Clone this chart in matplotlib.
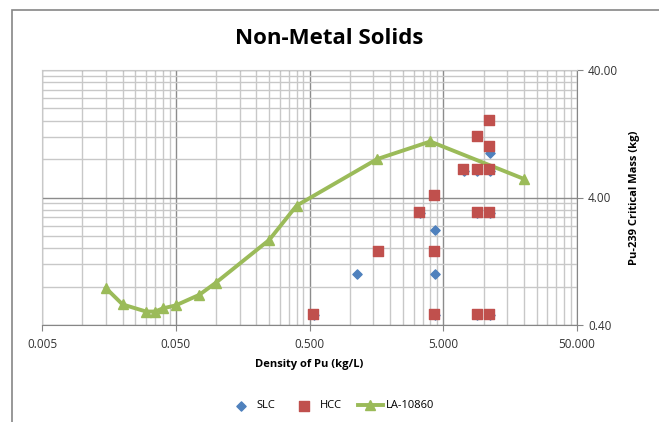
import numpy as np
import matplotlib
matplotlib.use('Agg')
import matplotlib.pyplot as plt
from matplotlib.patches import Rectangle
from matplotlib.ticker import FixedLocator, NullFormatter

plt.rcParams['font.family'] = ['Open Sans', 'DejaVu Sans']

# LA-10860 reference curve
la_x = [0.015, 0.02, 0.03, 0.035, 0.04, 0.05, 0.075, 0.1, 0.25, 0.4, 1.6, 4.0, 20.0]
la_y = [0.78, 0.58, 0.51, 0.51, 0.54, 0.57, 0.69, 0.86, 1.86, 3.45, 8.0, 11.0, 5.6]

# HCC points
hcc_x = [0.53, 1.64, 3.3, 4.3, 4.3, 4.3, 7.07, 8.9, 11.0, 8.9, 11.0, 11.0, 8.9, 11.0, 8.9, 11.0]
hcc_y = [0.49, 1.52, 3.06, 4.18, 1.52, 0.49, 6.66, 6.66, 6.66, 12.1, 16.2, 10.1, 3.06, 3.06, 0.49, 0.49]

# SLC points (several sit behind the HCC squares)
slc_x = [1.13, 4.37, 4.37, 11.2, 0.54, 3.35, 4.37, 7.15, 9.0, 11.1, 9.0, 11.1, 9.0, 11.1]
slc_y = [1.0, 2.24, 1.0, 8.9, 0.48, 3.0, 0.48, 6.5, 6.5, 6.5, 3.0, 3.0, 0.48, 0.48]

x_major = [0.005, 0.05, 0.5, 5, 50]
x_labels = ['0.005', '0.050', '0.500', '5.000', '50.000']
y_major = [0.4, 4, 40]
y_labels = ['0.40', '4.00', '40.00']

x_minor = [b * k for b in [0.005, 0.05, 0.5, 5] for k in range(2, 10)]
y_minor = [b * k for b in [0.4, 4] for k in range(2, 10)]

fig = plt.figure(figsize=(6.59, 4.22), dpi=100)
ax = fig.add_axes([42 / 659, 1 - 325 / 422, 535 / 659, 255 / 422])

ax.set_xscale('log')
ax.set_yscale('log')
ax.set_xlim(0.005, 50)
ax.set_ylim(0.4, 40)

ax.xaxis.set_major_locator(FixedLocator(x_major))
ax.xaxis.set_minor_locator(FixedLocator(x_minor))
ax.yaxis.set_major_locator(FixedLocator(y_major))
ax.yaxis.set_minor_locator(FixedLocator(y_minor))
ax.set_xticklabels(x_labels)
ax.set_yticklabels(y_labels)
ax.xaxis.set_minor_formatter(NullFormatter())
ax.yaxis.set_minor_formatter(NullFormatter())

ax.yaxis.tick_right()
ax.yaxis.set_label_position('right')

ax.grid(which='major', color='#8c8c8c', linewidth=1.0)
ax.grid(which='minor', color='#c8c8c8', linewidth=1.0)
ax.set_axisbelow(True)

for s in ['top', 'left']:
    ax.spines[s].set_color('#c8c8c8')
for s in ['bottom', 'right']:
    ax.spines[s].set_color('#868686')

ax.tick_params(axis='both', which='major', length=4, color='#868686',
               labelsize=8.5, labelcolor='#333333')
ax.tick_params(axis='x', which='major', pad=5)
ax.tick_params(axis='y', which='major', pad=4)
ax.tick_params(axis='both', which='minor', length=0)

ax.plot(la_x, la_y, color='#9bbb59', linewidth=2.8, marker='^', markersize=7,
        label='LA-10860', zorder=3)
ax.scatter(slc_x, slc_y, marker='D', s=22, color='#4f81bd', label='SLC', zorder=4)
ax.scatter(hcc_x, hcc_y, marker='s', s=60, color='#c0504d', label='HCC', zorder=5)

fig.text(0.5, 1 - 38 / 422, 'Non-Metal Solids', ha='center', va='center',
         fontsize=16, fontweight='bold')
ax.set_xlabel('Density of Pu (kg/L)', fontsize=8, fontweight='bold', labelpad=6)
ax.set_ylabel('Pu-239 Critical Mass (kg)', fontsize=8, fontweight='bold', labelpad=8)

h, l = ax.get_legend_handles_labels()
order = [l.index('SLC'), l.index('HCC'), l.index('LA-10860')]
fig.legend([h[i] for i in order], [l[i] for i in order], loc='center',
           bbox_to_anchor=(0.503, 1 - 406 / 422), ncol=3, frameon=False,
           fontsize=8, handlelength=2.2, columnspacing=1.5, handletextpad=0.3)

# chart frame: left and top edges visible, right and bottom run off the picture
fig.patches.append(Rectangle((11.5 / 659, -0.05), 1.0, 1 - 9.5 / 422 + 0.05,
                             transform=fig.transFigure, fill=False,
                             edgecolor='#868686', linewidth=1.2))

fig.savefig('out.png', dpi=100)
